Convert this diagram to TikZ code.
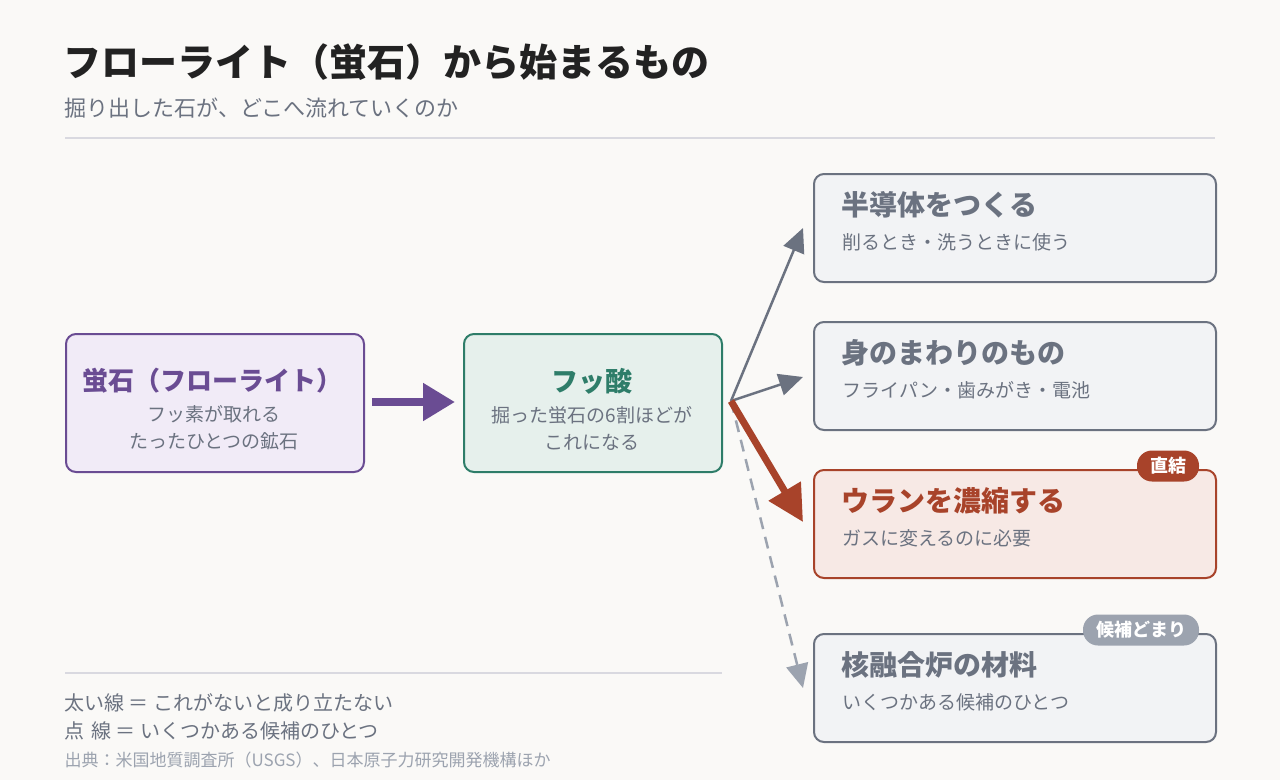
\documentclass[tikz,border=0pt]{standalone}
\usepackage{fontspec}
\setmainfont{Noto Sans CJK JP}
\usetikzlibrary{arrows.meta}
\definecolor{bgc}{HTML}{FAF9F7}
\definecolor{ink}{HTML}{222222}
\definecolor{sub}{HTML}{6B7280}
\definecolor{pur}{HTML}{6A4C93}
\definecolor{purf}{HTML}{F1EBF7}
\definecolor{grn}{HTML}{2E7D69}
\definecolor{grnf}{HTML}{E6F0EC}
\definecolor{gry}{HTML}{6B7280}
\definecolor{gryf}{HTML}{F2F3F5}
\definecolor{red}{HTML}{A8432A}
\definecolor{redf}{HTML}{F7E9E5}
\definecolor{lgr}{HTML}{9CA3AF}
\definecolor{rule}{HTML}{D9D9E0}
\tikzset{
  box/.style={draw=#1, line width=2pt, rounded corners=10pt, anchor=north west},
  ttl/.style={anchor=west, font=\bfseries\fontsize{28}{32}\selectfont},
  txt/.style={anchor=west, text=sub, font=\fontsize{19}{22}\selectfont},
  badge/.style={fill=#1, rounded corners=15pt, text=white, minimum height=31pt, inner xsep=13pt, font=\bfseries\fontsize{18}{20}\selectfont}
}
\begin{document}
\begin{tikzpicture}[x=1pt,y=-1pt]
  \fill[bgc] (0,0) rectangle (1280,780);
  \useasboundingbox (0,0) rectangle (1280,780);
  % header
  \node[anchor=west, text=ink, font=\bfseries\fontsize{38}{42}\selectfont] (title) at (60,62) {フローライト（蛍石）から始まるもの};
  \node[anchor=west, text=sub, font=\fontsize{22}{26}\selectfont] (subtitle) at (61,108) {掘り出した石が、どこへ流れていくのか};
  \draw[rule, line width=1.5pt] (65,138) -- (1215,138);
  % source boxes
  \node[box=pur, fill=purf, minimum width=298pt, minimum height=138pt] (fluo) at (65,333) {};
  \node[text=pur, font=\bfseries\fontsize{26}{30}\selectfont] (fluot) at (212,381) {蛍石（フローライト）};
  \node[text=sub, align=center, font=\fontsize{19}{27}\selectfont] (fluos) at (214,428) {フッ素が取れる\\たったひとつの鉱石};
  \node[box=grn, fill=grnf, minimum width=258pt, minimum height=138pt] (hf) at (463,333) {};
  \node[text=grn, font=\bfseries\fontsize{27}{30}\selectfont] (hft) at (592,381) {フッ酸};
  \node[text=sub, align=center, font=\fontsize{19}{27}\selectfont] (hfs) at (592,428) {掘った蛍石の6割ほどが\\これになる};
  \draw[pur, line width=8pt, -{Triangle[length=32pt,width=36pt]}] (372,402) -- (455,402);
  % uses
  \node[box=gry, fill=gryf, minimum width=402pt, minimum height=108pt] (semi) at (813,173) {};
  \node[ttl, text=gry] at (838,205) {半導体をつくる};
  \node[txt] at (839,242) {削るとき・洗うときに使う};
  \node[box=gry, fill=gryf, minimum width=402pt, minimum height=108pt] (life) at (813,321) {};
  \node[ttl, text=gry] at (838,353) {身のまわりのもの};
  \node[txt] at (839,390) {フライパン・歯みがき・電池};
  \node[box=red, fill=redf, minimum width=402pt, minimum height=108pt] (uran) at (813,469) {};
  \node[ttl, text=red] at (838,501) {ウランを濃縮する};
  \node[txt] at (839,538) {ガスに変えるのに必要};
  \node[box=gry, fill=gryf, minimum width=402pt, minimum height=108pt] (fus) at (813,633) {};
  \node[ttl, text=gry] at (838,665) {核融合炉の材料};
  \node[txt] at (839,702) {いくつかある候補のひとつ};
  \node[badge=red] (direct) at (1168,466) {直結};
  \node[badge=lgr] (cand) at (1141,630) {候補どまり};
  % flows
  \coordinate (fork) at (731,401);
  \coordinate (toSemi) at (803,228);
  \coordinate (toLife) at (803,377);
  \coordinate (toUran) at (803,522);
  \coordinate (toFus) at (803,688);
  \draw[gry, line width=2.5pt, -{Triangle[length=24pt,width=22pt]}] (fork) -- (toSemi);
  \draw[gry, line width=2.5pt, -{Triangle[length=24pt,width=22pt]}] (fork) -- (toLife);
  \draw[lgr, line width=2.5pt, dash pattern=on 12pt off 8pt, -{Triangle[length=24pt,width=22pt]}] (fork) -- (toFus);
  \draw[red, line width=7pt, -{Triangle[length=36pt,width=36pt]}] (fork) -- (toUran);
  % legend
  \draw[rule, line width=1.5pt] (65,673) -- (722,673);
  \node[anchor=west, text=sub, font=\fontsize{20}{22}\selectfont] at (61,703) {太い線 ＝ これがないと成り立たない};
  \node[anchor=west, text=sub, font=\fontsize{20}{22}\selectfont] at (61,731) {点\,\,線 ＝ いくつかある候補のひとつ};
  \node[anchor=west, text=lgr, font=\fontsize{17}{20}\selectfont] at (61,760) {出典：米国地質調査所（USGS）、日本原子力研究開発機構ほか};
\end{tikzpicture}
\end{document}
